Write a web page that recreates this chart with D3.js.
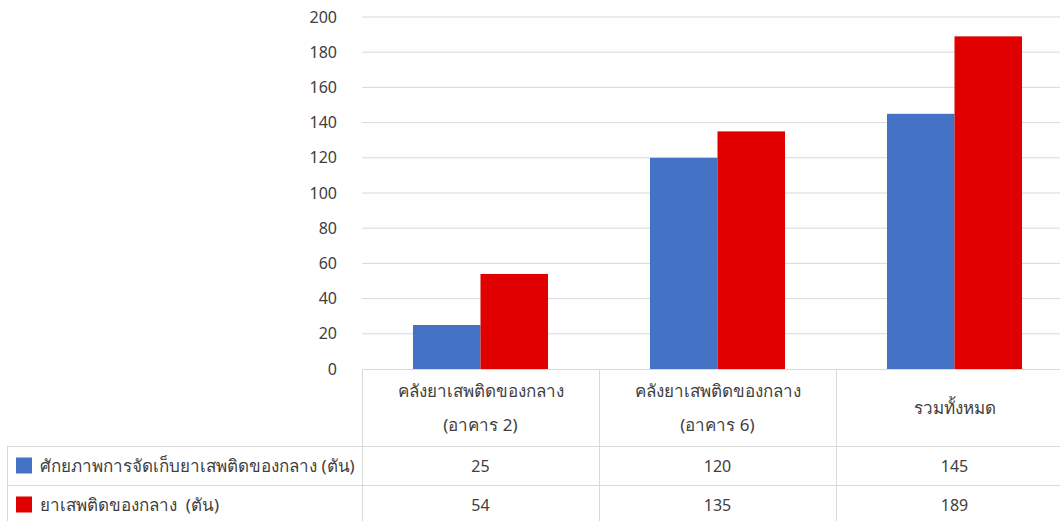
<!DOCTYPE html>
<html>
<head>
<meta charset="utf-8">
<script src="https://cdn.jsdelivr.net/npm/d3@7"></script>
<style>
  body { margin: 0; background: #fff; overflow: hidden; }
  text { font-family: Tahoma, "Noto Sans", "DejaVu Sans", sans-serif; fill: #404040; white-space: pre; }
</style>
</head>
<body>
<div id="container"></div>
<script>
let w = 1060;
let h = 521;

// DATA
let categories = ["คลังยาเสพติดของกลาง\n(อาคาร 2)", "คลังยาเสพติดของกลาง\n(อาคาร 6)", "รวมทั้งหมด"];
let seriesNames = ["ศักยภาพการจัดเก็บยาเสพติดของกลาง (ตัน)", "ยาเสพติดของกลาง  (ตัน)"];
let capacity = [25, 120, 145];
let seized = [54, 135, 189];
let yTicks = [0, 20, 40, 60, 80, 100, 120, 140, 160, 180, 200];
let colors = ["#4472C4", "#E00000"];

let series = [capacity, seized];

let plotLeft = 362, plotTop = 17, plotBottom = 369;
let bandW = 237;
let rowTops = [369, 446, 485];
let rowBottom = 530;

let viz = d3.select("#container").append("svg")
    .attr("width", w)
    .attr("height", h);

let x = d3.scaleBand()
    .domain(d3.range(categories.length))
    .range([plotLeft, plotLeft + bandW * categories.length])
    .paddingInner(0).paddingOuter(0);

let xInner = d3.scaleBand()
    .domain(d3.range(series.length))
    .range([0, x.bandwidth()])
    .paddingInner(0)
    .paddingOuter(0.755);

let y = d3.scaleLinear().domain([0, 200]).range([plotBottom, plotTop]);

// gridlines
viz.append("g").selectAll("line").data(yTicks.filter(d => d > 0)).enter()
    .append("line")
    .attr("x1", plotLeft).attr("x2", w)
    .attr("y1", d => y(d)).attr("y2", d => y(d))
    .attr("stroke", "#d9d9d9").attr("stroke-width", 1);

// y axis labels
let yAxis = d3.axisLeft(y).tickValues(yTicks).tickSize(0).tickPadding(0);
let yg = viz.append("g").attr("transform", `translate(${337},0)`).call(yAxis);
yg.select(".domain").remove();
yg.selectAll("text").attr("font-size", 16).attr("fill", "#595959").style("font-family", "Tahoma, 'Noto Sans', sans-serif");

// bars
series.forEach((vals, s) => {
  viz.append("g").selectAll("rect").data(vals).enter()
    .append("rect")
    .attr("x", (d, i) => x(i) + xInner(s))
    .attr("width", xInner.bandwidth())
    .attr("y", d => y(d))
    .attr("height", d => y(0) - y(d))
    .attr("fill", colors[s]);
});

// data table lines
let grid = viz.append("g").attr("stroke", "#d9d9d9").attr("stroke-width", 1).attr("shape-rendering", "crispEdges");
grid.append("line").attr("x1", plotLeft).attr("x2", w).attr("y1", plotBottom + 0.5).attr("y2", plotBottom + 0.5);
[rowTops[1], rowTops[2]].forEach(r => {
  grid.append("line").attr("x1", 7).attr("x2", w).attr("y1", r + 0.5).attr("y2", r + 0.5);
});
grid.append("line").attr("x1", 7.5).attr("x2", 7.5).attr("y1", rowTops[1]).attr("y2", rowBottom);
d3.range(categories.length + 1).forEach(i => {
  let xx = plotLeft + bandW * i;
  grid.append("line").attr("x1", xx + 0.5).attr("x2", xx + 0.5).attr("y1", plotBottom).attr("y2", rowBottom);
});

// category labels
categories.forEach((c, i) => {
  let lines = c.split("\n");
  let cx = x(i) + x.bandwidth() / 2;
  let cy = (rowTops[0] + rowTops[1]) / 2;
  let t = viz.append("text")
      .attr("x", cx)
      .attr("text-anchor", "middle")
      .attr("font-size", 17);
  lines.forEach((ln, k) => {
    t.append("tspan")
      .attr("x", cx)
      .attr("y", cy + (k - (lines.length - 1) / 2) * 34 + 6)
      .text(ln);
  });
});

// series rows
series.forEach((vals, s) => {
  let cy = (rowTops[s + 1] + (s + 2 < rowTops.length ? rowTops[s + 2] : 524)) / 2;
  viz.append("rect")
    .attr("x", 16).attr("y", cy - 8)
    .attr("width", 16).attr("height", 16)
    .attr("fill", colors[s]);
  viz.append("text")
    .attr("x", 40).attr("y", cy + 6)
    .attr("font-size", 17)
    .text(seriesNames[s]);
  viz.append("g").selectAll("text").data(vals).enter()
    .append("text")
    .attr("x", (d, i) => x(i) + x.bandwidth() / 2)
    .attr("y", cy + 6)
    .attr("text-anchor", "middle")
    .attr("font-size", 16)
    .text(d => d);
});
</script>
</body>
</html>
